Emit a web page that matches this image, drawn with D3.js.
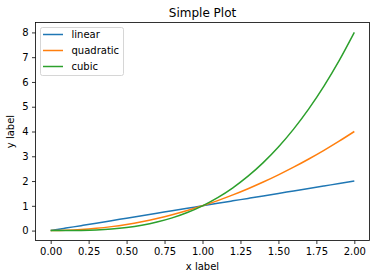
<!DOCTYPE html>
<html><head><meta charset="utf-8">
<script src="https://cdn.jsdelivr.net/npm/d3@7"></script>
<style>body{margin:0;background:#fff}svg{display:block}text{font-family:"DejaVu Sans",sans-serif;fill:#000}</style>
</head><body><svg id="c" width="376" height="278"></svg>
<script>
const xs = [0,0.1,0.2,0.3,0.4,0.5,0.6,0.7,0.8,0.9,1.0,1.1,1.2,1.3,1.4,1.5,1.6,1.7,1.8,1.9,2.0];
const linear = [0,0.1,0.2,0.3,0.4,0.5,0.6,0.7,0.8,0.9,1.0,1.1,1.2,1.3,1.4,1.5,1.6,1.7,1.8,1.9,2.0];
const quadratic = [0,0.01,0.04,0.09,0.16,0.25,0.36,0.49,0.64,0.81,1.0,1.21,1.44,1.69,1.96,2.25,2.56,2.89,3.24,3.61,4.0];
const cubic = [0,0.001,0.008,0.027,0.064,0.125,0.216,0.343,0.512,0.729,1.0,1.331,1.728,2.197,2.744,3.375,4.096,4.913,5.832,6.859,8.0];
const seriesNames = ["linear","quadratic","cubic"];
const colors = ["#1f77b4","#ff7f0e","#2ca02c"];
const xTicks = [0,0.25,0.5,0.75,1.0,1.25,1.5,1.75,2.0];
const yTicks = [0,1,2,3,4,5,6,7,8];

const svg = d3.select("#c");
const L=35.5,R=369.5,T=22.5,B=240.5;
const x = d3.scaleLinear().domain([-0.1,2.1]).range([L,R]);
const y = d3.scaleLinear().domain([-0.4,8.4]).range([B,T]);

const series = [linear,quadratic,cubic];
const line = d3.line().x((d,i)=>x(xs[i])).y(d=>y(d)).curve(d3.curveMonotoneX);
series.forEach((s,k)=>{
  svg.append("path").attr("d",line(s)).attr("fill","none").attr("stroke",colors[k]).attr("stroke-width",1.5);
});

const xa = svg.append("g").attr("transform",`translate(0,${B})`)
  .call(d3.axisBottom(x).tickValues(xTicks).tickFormat(d3.format(".2f")).tickSizeInner(3.5).tickSizeOuter(0).tickPadding(3.5));
const ya = svg.append("g").attr("transform",`translate(${L},0)`)
  .call(d3.axisLeft(y).tickValues(yTicks).tickFormat(d3.format("d")).tickSizeInner(3.5).tickSizeOuter(0).tickPadding(3.5));
[xa,ya].forEach(a=>{
  a.select(".domain").remove();
  a.selectAll("line").attr("stroke","#000").attr("stroke-width",0.8);
  a.selectAll("text").attr("font-size",10).attr("font-family","DejaVu Sans").attr("fill","#000");
});
svg.append("rect").attr("x",L).attr("y",T).attr("width",R-L).attr("height",B-T)
  .attr("fill","none").attr("stroke","#000").attr("stroke-width",0.8);

svg.append("text").attr("x",(L+R)/2).attr("y",17).attr("text-anchor","middle").attr("font-size",12).text("Simple Plot");
svg.append("text").attr("x",(L+R)/2).attr("y",270).attr("text-anchor","middle").attr("font-size",10).text("x label");
svg.append("text").attr("transform",`translate(14,${(T+B)/2}) rotate(-90)`).attr("text-anchor","middle").attr("font-size",10).text("y label");

const lg = svg.append("g");
lg.append("rect").attr("x",40.5).attr("y",27.5).attr("width",83).attr("height",48).attr("rx",2)
  .attr("fill","#fff").attr("fill-opacity",0.8).attr("stroke","#ccc").attr("stroke-width",0.8);
seriesNames.forEach((n,k)=>{
  const yy = 34.5 + k*16;
  lg.append("line").attr("x1",43).attr("x2",63).attr("y1",yy).attr("y2",yy).attr("stroke",colors[k]).attr("stroke-width",1.5);
  lg.append("text").attr("x",71.5).attr("y",yy+3.5).attr("font-size",10).text(n);
});
</script></body></html>
